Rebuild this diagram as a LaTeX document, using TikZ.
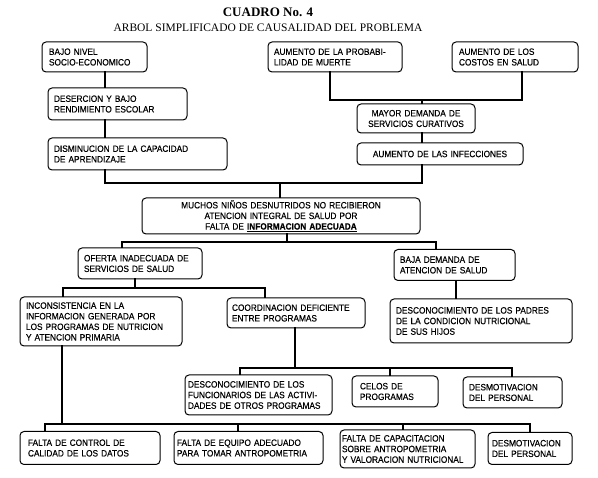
\documentclass[tikz,border=0pt]{standalone}
\usepackage{fontspec}
\setmainfont{Liberation Serif}
\newfontfamily\boxfont{Liberation Sans}[FakeStretch=0.9,FakeBold=0.3]
\hyphenpenalty=10000
\exhyphenpenalty=10000
\begin{document}
\begin{tikzpicture}[x=1pt,y=-1pt,
  box/.style={draw, line width=1pt, rounded corners=4pt, align=left,
    font=\boxfont\fontsize{9.2}{10.6}\selectfont, inner xsep=6pt, inner ysep=1pt},
  cbox/.style={box, align=center},
  conn/.style={line width=2pt, line cap=rect}]
\useasboundingbox (0,0) rectangle (598,478);
\node[font=\bfseries\fontsize{13}{15}\selectfont] (t1) at (268,12.5) {CUADRO No. 4};
\node[font=\fontsize{11.5}{13}\selectfont] (t2) at (268,28) {ARBOL SIMPLIFICADO DE CAUSALIDAD DEL PROBLEMA};
% row 1
\node[box, text width=91pt, minimum height=30pt, inner xsep=7pt] (bajo) at (94.5,57) {BAJO NIVEL\\SOCIO-ECONOMICO};
\node[box, text width=122pt, minimum height=30pt] (prob) at (335,57) {AUMENTO DE LA PROBABI-\\LIDAD DE MUERTE};
\node[box, text width=112pt, minimum height=30pt, inner xsep=7pt] (costos) at (515,57) {AUMENTO DE LOS\\COSTOS EN SALUD};
% row 2
\node[box, text width=127pt, minimum height=32pt] (deser) at (117.5,104) {DESERCION Y BAJO\\RENDIMIENTO ESCOLAR};
\node[cbox, text width=106pt, minimum height=29pt] (mayor) at (416,118.5) {MAYOR DEMANDA DE\\SERVICIOS CURATIVOS};
\node[box, text width=167pt, minimum height=32pt] (dismin) at (137.5,154) {DISMINUCION DE LA CAPACIDAD\\DE APRENDIZAJE};
\node[cbox, text width=154pt, minimum height=22pt] (infec) at (440,154) {AUMENTO DE LAS INFECCIONES};
% center
\node[cbox, text width=266pt, minimum height=36pt] (muchos) at (281,216) {MUCHOS NIÑOS DESNUTRIDOS NO RECIBIERON\\ATENCION INTEGRAL DE SALUD POR\\FALTA DE \textbf{\underline{INFORMACION ADECUADA}}};
% level 2
\node[box, text width=112pt, minimum height=31pt] (oferta) at (140,263.5) {OFERTA INADECUADA DE\\SERVICIOS DE SALUD};
\node[box, text width=109pt, minimum height=31pt] (baja) at (454.5,265) {BAJA DEMANDA DE\\ATENCION DE SALUD};
% level 3
\node[box, text width=150pt, minimum height=49pt] (incons) at (101,321.5) {INCONSISTENCIA EN LA\\INFORMACION GENERADA POR\\LOS PROGRAMAS DE NUTRICION\\Y ATENCION PRIMARIA};
\node[box, text width=128pt, minimum height=30pt, inner xsep=5pt] (coord) at (296,313) {COORDINACION DEFICIENTE\\ENTRE PROGRAMAS};
\node[box, text width=170pt, minimum height=44pt] (padres) at (481,321) {DESCONOCIMIENTO DE LOS PADRES\\DE LA CONDICION NUTRICIONAL\\DE SUS HIJOS};
% level 4
\node[box, text width=141pt, minimum height=40pt, inner xsep=3pt] (func) at (258.5,395) {DESCONOCIMIENTO DE LOS\\FUNCIONARIOS DE LAS ACTIVI-\\DADES DE OTROS PROGRAMAS};
\node[box, text width=70pt, minimum height=31pt, inner xsep=8pt] (celos) at (395,391.5) {CELOS DE\\PROGRAMAS};
\node[box, text width=87pt, minimum height=31pt] (desma) at (512.5,392.5) {DESMOTIVACION\\DEL PERSONAL};
% bottom
\node[box, text width=124pt, minimum height=33pt, inner xsep=8pt] (control) at (90,448) {FALTA DE CONTROL DE\\CALIDAD DE LOS DATOS};
\node[box, text width=143pt, minimum height=33pt, inner xsep=3pt] (equipo) at (248.5,448) {FALTA DE EQUIPO ADECUADO\\PARA TOMAR ANTROPOMETRIA};
\node[box, text width=131pt, minimum height=38pt, inner xsep=2pt] (capac) at (407.5,449) {FALTA DE CAPACITACION\\SOBRE ANTROPOMETRIA\\Y VALORACION NUTRICIONAL};
\node[box, text width=76pt, minimum height=32pt, inner xsep=4pt] (desmb) at (530,448.5) {DESMOTIVACION\\DEL PERSONAL};
% connectors
\coordinate (xa) at (105,0);
\draw[conn] (xa |- bajo.south) -- (xa |- deser.north);
\draw[conn] (xa |- deser.south) -- (xa |- dismin.north);
\coordinate (bL) at (330,100); \coordinate (bR) at (522,100); \coordinate (bM) at (422,100);
\draw[conn] (bL |- prob.south) -- (bL) -- (bR) -- (bR |- costos.south);
\draw[conn] (bM) -- (bM |- mayor.north);
\draw[conn] (bM |- mayor.south) -- (bM |- infec.north);
\coordinate (cL) at (105,183); \coordinate (cR) at (422,183); \coordinate (cM) at (280,183);
\draw[conn] (cL |- dismin.south) -- (cL) -- (cR) -- (cR |- infec.south);
\draw[conn] (cM) -- (cM |- muchos.north);
\coordinate (dL) at (122,242); \coordinate (dR) at (436,242); \coordinate (dM) at (287,242);
\draw[conn] (dM |- muchos.south) -- (dM);
\draw[conn] (dL |- oferta.north) -- (dL) -- (dR) -- (dR |- baja.north);
\coordinate (eL) at (63,288); \coordinate (eR) at (265,288); \coordinate (eM) at (135,288);
\draw[conn] (eM |- oferta.south) -- (eM);
\draw[conn] (eL |- incons.north) -- (eL) -- (eR) -- (eR |- coord.north);
\coordinate (xp) at (456,0);
\draw[conn] (xp |- baja.south) -- (xp |- padres.north);
\coordinate (fL) at (240,368); \coordinate (fR) at (512,368); \coordinate (fM) at (295,368); \coordinate (fC) at (390,368);
\draw[conn] (fM |- coord.south) -- (fM);
\draw[conn] (fL |- func.north) -- (fL) -- (fR) -- (fR |- desma.north);
\draw[conn] (fC) -- (fC |- celos.north);
\coordinate (gL) at (45,424); \coordinate (gR) at (530,424); \coordinate (gM) at (62,424);
\coordinate (gE) at (238,424); \coordinate (gC) at (403,424);
\draw[conn] (gM |- incons.south) -- (gM);
\draw[conn] (gL |- control.north) -- (gL) -- (gR) -- (gR |- desmb.north);
\draw[conn] (gE) -- (gE |- equipo.north);
\draw[conn] (gC) -- (gC |- capac.north);
\end{tikzpicture}
\end{document}
